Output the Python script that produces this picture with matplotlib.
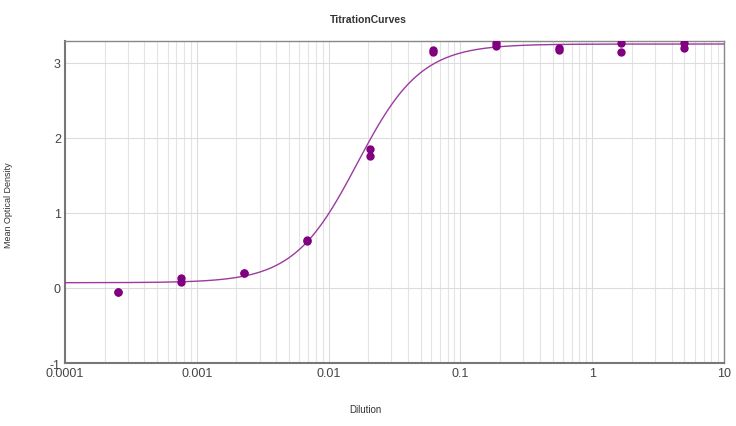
import matplotlib.pyplot as plt
import numpy as np
from matplotlib.ticker import LogLocator, FixedLocator, NullFormatter

plt.rcParams['font.family'] = ['Liberation Sans', 'DejaVu Sans']
plt.rcParams['axes.unicode_minus'] = False

# dilution series (3-fold), two replicates per dilution
dilution = [0.000254, 0.000762, 0.00229, 0.00686, 0.0206,
            0.0617, 0.185, 0.556, 1.667, 5.0]
od_rep1 = [-0.05, 0.13, 0.20, 0.64, 1.85, 3.17, 3.27, 3.20, 3.26, 3.26]
od_rep2 = [-0.05, 0.08, 0.20, 0.62, 1.76, 3.14, 3.23, 3.17, 3.15, 3.20]

# 4PL fit parameters (bottom, top, EC50, hill slope)
fit_bottom, fit_top, fit_ec50, fit_hill = 0.07, 3.25, 0.0165, 1.8

x_tick_labels = ['0.0001', '0.001', '0.01', '0.1', '1', '10']

fig = plt.figure(figsize=(7.36, 4.27), dpi=100, facecolor='w')
ax = fig.add_axes([0.0883, 0.1475, 0.8954, 0.7541])

xs = np.logspace(-4, 1, 400)
curve = fit_bottom + (fit_top - fit_bottom) / (1 + (fit_ec50 / xs) ** fit_hill)
ax.plot(xs, curve, color='#9c3aa0', lw=1.0, zorder=3)

ax.plot(dilution, od_rep1, 'o', color='#800080', ms=5, mec='#800080', zorder=4)
ax.plot(dilution, od_rep2, 'o', color='#800080', ms=5, mec='#800080', zorder=4)

ax.set_xscale('log')
ax.set_xlim(1e-4, 10)
ax.set_ylim(-1, 3.29)
ax.xaxis.set_major_locator(FixedLocator([1e-4, 1e-3, 1e-2, 1e-1, 1, 10]))
ax.set_xticklabels(x_tick_labels)
ax.xaxis.set_minor_locator(LogLocator(base=10, subs=np.arange(2, 10)))
ax.xaxis.set_minor_formatter(NullFormatter())
ax.set_yticks([-1, 0, 1, 2, 3])

ax.grid(True, which='major', color='#dcdcdc', lw=0.8)
ax.grid(True, which='minor', axis='x', color='#e4e4e4', lw=0.8)
ax.set_axisbelow(True)

ax.tick_params(which='both', length=0, labelsize=9, colors='#444444', pad=3)
for side in ['top', 'right']:
    ax.spines[side].set_color('#888888')
    ax.spines[side].set_linewidth(1.0)
for side in ['left', 'bottom']:
    ax.spines[side].set_color('#777777')
    ax.spines[side].set_linewidth(1.5)

fig.text(0.5, 0.953, 'TitrationCurves', ha='center', va='center',
         fontsize=7.5, fontweight='bold', color='#333333')
fig.text(0.011, 0.52, 'Mean Optical Density', rotation=90, ha='center',
         va='center', fontsize=6.5, color='#333333')
fig.text(0.496, 0.04, 'Dilution', ha='center', va='center',
         fontsize=7, color='#333333')

fig.savefig('out.png', dpi=100)
